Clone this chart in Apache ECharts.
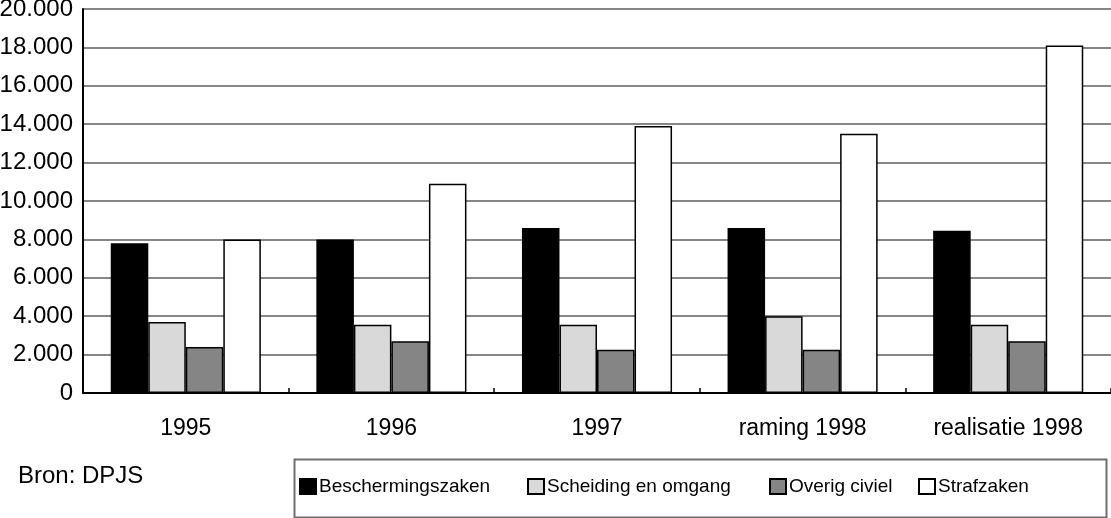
<!DOCTYPE html>
<html>
<head>
<meta charset="utf-8">
<script src="https://cdn.jsdelivr.net/npm/echarts@6/dist/echarts.min.js"></script>
<style>
html,body{margin:0;padding:0;background:#fff;}
#c{width:1111px;height:518px;}
</style>
</head>
<body>
<div id="c"></div>
<script>
var categories = ['1995', '1996', '1997', 'raming 1998', 'realisatie 1998'];
var seriesNames = ['Beschermingszaken', 'Scheiding en omgang', 'Overig civiel', 'Strafzaken'];
var beschermingszaken = [7800, 8000, 8600, 8600, 8450];
var scheidingEnOmgang = [3700, 3550, 3550, 4000, 3550];
var overigCiviel = [2400, 2700, 2250, 2250, 2700];
var strafzaken = [8000, 10900, 13900, 13500, 18100];
var yTicks = [0, 2000, 4000, 6000, 8000, 10000, 12000, 14000, 16000, 18000, 20000];
var sourceText = 'Bron: DPJS';

var colors = ['#000000', '#d9d9d9', '#858585', '#ffffff'];
var values = [beschermingszaken, scheidingEnOmgang, overigCiviel, strafzaken];
var legendLeft = [299, 527, 769, 918];
var FONT = '"Liberation Sans", Arial, Helvetica, sans-serif';

function fmt(v) {
  return String(v).replace(/\B(?=(\d{3})+(?!\d))/g, '.');
}

var series = seriesNames.map(function (n, i) {
  return {
    name: n,
    type: 'bar',
    data: values[i],
    barGap: '0%',
    barCategoryGap: '27%',
    itemStyle: { color: colors[i], borderColor: '#000', borderWidth: 1.5 },
    emphasis: { disabled: true }
  };
});

var legends = seriesNames.map(function (n, i) {
  return {
    data: [{ name: n, icon: 'rect' }],
    left: legendLeft[i],
    top: 477,
    itemWidth: 16,
    itemHeight: 15,
    itemGap: 0,
    padding: 0,
    selectedMode: false,
    textStyle: { fontFamily: FONT, fontSize: 19, color: '#000', padding: [0, 0, 0, -2] }
  };
});

var chart = echarts.init(document.getElementById('c'), null, { renderer: 'canvas' });
chart.setOption({
  animation: false,
  backgroundColor: '#fff',
  color: colors,
  grid: { left: 83, right: 0, top: 9, bottom: 125, containLabel: false, outerBoundsMode: 'none' },
  legend: legends,
  xAxis: {
    type: 'category',
    data: categories,
    axisLine: { lineStyle: { color: '#000', width: 2 } },
    axisTick: { show: true, inside: true, length: 5, lineStyle: { color: '#000', width: 1.5 } },
    axisLabel: { fontFamily: FONT, fontSize: 23, color: '#000', margin: 24 },
    splitLine: { show: false }
  },
  yAxis: {
    type: 'value',
    min: yTicks[0],
    max: yTicks[yTicks.length - 1],
    interval: 2000,
    axisLine: { show: true, lineStyle: { color: '#000', width: 2 } },
    axisTick: { show: false },
    axisLabel: { fontFamily: FONT, fontSize: 24, color: '#000', margin: 10, formatter: fmt },
    splitLine: { show: true, lineStyle: { color: '#5e5e5e', width: 1.5 } }
  },
  series: series,
  graphic: [
    {
      type: 'rect',
      left: 292, top: 457,
      shape: { width: 812, height: 58 },
      style: { fill: 'none', stroke: '#6e6e6e', lineWidth: 2 },
      z: -1
    },
    {
      type: 'text',
      left: 18, top: 464,
      style: { text: sourceText, fontFamily: FONT, fontSize: 24, fill: '#000' }
    }
  ]
});
</script>
</body>
</html>
